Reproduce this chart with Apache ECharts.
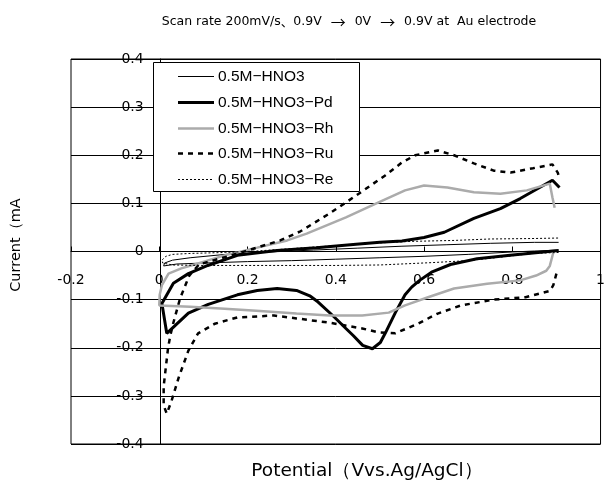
<!DOCTYPE html>
<html>
<head>
<meta charset="utf-8">
<script src="https://cdn.jsdelivr.net/npm/echarts@6/dist/echarts.min.js"></script>
<style>
  html, body { margin: 0; padding: 0; background: #fff; }
  #chart { width: 608px; height: 483px; }
</style>
</head>
<body>
<div id="chart"></div>
<script>
// Cyclic voltammograms, 0.9 V -> 0 V -> 0.9 V; each list is [potential (V), current (mA)]
const seriesNames = ['0.5M−HNO3', '0.5M−HNO3−Pd', '0.5M−HNO3−Rh', '0.5M−HNO3−Ru', '0.5M−HNO3−Re'];

const hno3 = [
  [0.905, 0.003], [0.85, 0.001], [0.8, -0.001], [0.7, -0.006], [0.6, -0.010], [0.5, -0.013],
  [0.4, -0.016], [0.3, -0.019], [0.2, -0.021], [0.1, -0.024], [0.04, -0.026], [0.01, -0.030],
  [0.012, -0.024], [0.03, -0.018], [0.07, -0.013], [0.15, -0.006], [0.25, -0.001], [0.35, 0.003],
  [0.45, 0.007], [0.55, 0.011], [0.65, 0.014], [0.75, 0.017], [0.85, 0.019], [0.905, 0.019]
];

const hno3Pd = [
  [0.905, 0.002], [0.795, -0.008], [0.72, -0.015], [0.66, -0.027], [0.617, -0.043], [0.59, -0.060],
  [0.572, -0.074], [0.557, -0.090], [0.535, -0.127], [0.512, -0.170], [0.501, -0.189], [0.483, -0.202],
  [0.461, -0.195], [0.44, -0.175], [0.423, -0.160], [0.393, -0.133], [0.36, -0.105], [0.341, -0.092],
  [0.311, -0.081], [0.267, -0.077], [0.222, -0.081], [0.177, -0.090], [0.111, -0.110], [0.066, -0.128],
  [0.017, -0.170], [0.006, -0.108], [0.032, -0.066], [0.066, -0.046], [0.11, -0.029], [0.177, -0.008],
  [0.267, 0.002], [0.356, 0.008], [0.446, 0.015], [0.5, 0.019], [0.55, 0.022], [0.6, 0.029],
  [0.646, 0.040], [0.713, 0.069], [0.773, 0.089], [0.818, 0.110], [0.891, 0.148], [0.907, 0.133]
];

const hno3Rh = [
  [0.893, -0.002], [0.885, -0.030], [0.877, -0.040], [0.854, -0.050], [0.818, -0.060], [0.743, -0.067],
  [0.668, -0.077], [0.609, -0.095], [0.557, -0.112], [0.52, -0.127], [0.46, -0.133], [0.386, -0.133],
  [0.311, -0.129], [0.22, -0.123], [0.148, -0.119], [0.07, -0.115], [0.0, -0.112], [-0.004, -0.110],
  [0.001, -0.090], [0.006, -0.070], [0.021, -0.046], [0.05, -0.035], [0.088, -0.025], [0.148, -0.008],
  [0.222, 0.008], [0.29, 0.023], [0.334, 0.037], [0.423, 0.071], [0.497, 0.102], [0.557, 0.127],
  [0.6, 0.137], [0.653, 0.133], [0.713, 0.123], [0.773, 0.120], [0.833, 0.127], [0.885, 0.141],
  [0.891, 0.112], [0.896, 0.091]
];

const hno3Ru = [
  [0.9, -0.046], [0.893, -0.070], [0.885, -0.082], [0.83, -0.095], [0.758, -0.100], [0.684, -0.112],
  [0.631, -0.129], [0.586, -0.150], [0.535, -0.170], [0.497, -0.168], [0.46, -0.160], [0.386, -0.148],
  [0.311, -0.139], [0.26, -0.133], [0.177, -0.137], [0.126, -0.150], [0.088, -0.170], [0.066, -0.206],
  [0.044, -0.262], [0.028, -0.310], [0.017, -0.337], [0.01, -0.320], [0.01, -0.280], [0.015, -0.240],
  [0.02, -0.200], [0.025, -0.175], [0.032, -0.148], [0.047, -0.098], [0.068, -0.050], [0.09, -0.027],
  [0.148, -0.012], [0.2, 0.002], [0.274, 0.023], [0.32, 0.042], [0.386, 0.079], [0.452, 0.120],
  [0.512, 0.158], [0.55, 0.185], [0.58, 0.200], [0.631, 0.210], [0.668, 0.200], [0.713, 0.183],
  [0.758, 0.168], [0.796, 0.164], [0.847, 0.173], [0.891, 0.181], [0.903, 0.164], [0.907, 0.152]
];

const hno3Re = [
  [0.905, -0.002], [0.847, -0.004], [0.77, -0.012], [0.70, -0.019], [0.62, -0.023], [0.5, -0.028],
  [0.4, -0.029], [0.3, -0.029], [0.2, -0.029], [0.1, -0.029], [0.03, -0.028], [0.008, -0.024],
  [0.006, -0.018], [0.015, -0.010], [0.03, -0.006], [0.07, -0.004], [0.15, -0.002], [0.22, 0.001],
  [0.3, 0.006], [0.38, 0.011], [0.48, 0.017], [0.57, 0.021], [0.668, 0.023], [0.75, 0.026],
  [0.85, 0.027], [0.905, 0.028]
];

const xTicks = { min: -0.2, max: 1.0, step: 0.2 };
const yTicks = { min: -0.4, max: 0.4, step: 0.1 };

const xName = 'Potential（Vvs.Ag/AgCl）';
const yName = 'Current（mA';

// line look of each curve (shared by the plot and the key)
const styles = [
  { width: 1,   color: '#000',    type: 'solid' },
  { width: 3,   color: '#000',    type: 'solid' },
  { width: 2.5, color: '#ababab', type: 'solid' },
  { width: 2.5, color: '#000',    type: [5, 5] },
  { width: 1,   color: '#000',    type: [2, 2] }
];
const seriesData = [hno3, hno3Pd, hno3Rh, hno3Ru, hno3Re];

const chart = echarts.init(document.getElementById('chart'), null, { renderer: 'canvas' });

const wide = '"DejaVu Sans", sans-serif';
const latin = '"Liberation Sans", Arial, sans-serif';
const labelFont = { fontFamily: '"DejaVu Sans", sans-serif', fontSize: 14, color: '#000' };

const grid = { left: 71, top: 59, right: -1, bottom: 39 };
const plotW = 608 - grid.left - grid.right;
const plotH = 483 - grid.top - grid.bottom;
// shift the axes so they run through the origin, labels included
const yAxisShift = plotW * (0 - xTicks.min) / (xTicks.max - xTicks.min);
const xAxisShift = plotH * (0 - yTicks.min) / (yTicks.max - yTicks.min);

// key box
const key = { x: 153, y: 62, w: 206, h: 129, row0: 76, rowGap: 25.75, lineX0: 178, lineX1: 214, textX: 218 };
const keyElements = [{
  type: 'rect', z: 100,
  shape: { x: key.x + 0.5, y: key.y + 0.5, width: key.w, height: key.h },
  style: { fill: '#fff', stroke: '#000', lineWidth: 1 }
}];
seriesNames.forEach(function (name, i) {
  const y = Math.round(key.row0 + i * key.rowGap) + 0.5;
  const s = styles[i];
  keyElements.push({
    type: 'line', z: 101,
    shape: { x1: key.lineX0, y1: y, x2: key.lineX1, y2: y },
    style: { stroke: s.color, lineWidth: s.width, lineDash: Array.isArray(s.type) ? s.type : null }
  });
  keyElements.push({
    type: 'text', x: key.textX, y: y, z: 101,
    style: { text: name, font: '15.5px ' + latin, fill: '#000', align: 'left', verticalAlign: 'middle' }
  });
});

chart.setOption({
  backgroundColor: '#fff',
  animation: false,
  grid: Object.assign({ show: true, borderColor: '#000', borderWidth: 1, backgroundColor: 'transparent' }, grid),
  xAxis: {
    type: 'value',
    min: xTicks.min, max: xTicks.max, interval: xTicks.step,
    offset: -xAxisShift,
    axisLine: { onZero: false, lineStyle: { color: '#000', width: 1 } },
    axisTick: { show: true, inside: true, length: 5, lineStyle: { color: '#000' } },
    axisLabel: Object.assign({ margin: 22, alignMaxLabel: 'center' }, labelFont),
    splitLine: { show: false }
  },
  yAxis: {
    type: 'value',
    min: yTicks.min, max: yTicks.max, interval: yTicks.step,
    offset: -yAxisShift,
    axisLine: { onZero: false, lineStyle: { color: '#000', width: 1 } },
    axisTick: { show: false },
    axisLabel: Object.assign({ margin: 17 }, labelFont),
    splitLine: { show: true, lineStyle: { color: '#000', width: 1 } }
  },
  graphic: [
    {
      type: 'text', x: 349, y: 22, z: 100,
      style: {
        text: 'Scan rate 200mV/s{c|、}0.9V {a|→} 0V {a|→} 0.9V at  Au electrode',
        font: '12.5px ' + wide, fill: '#000', align: 'center', verticalAlign: 'middle',
        rich: {
          a: { fontSize: 15, fontFamily: '"Noto Sans CJK JP"', padding: [0, 5, 0, 5] },
          c: { fontSize: 12.5, fontFamily: '"Noto Sans CJK JP"' }
        }
      }
    },
    {
      type: 'text', x: 367, y: 471, z: 100,
      style: { text: xName, font: '18.5px ' + wide, fill: '#000', align: 'center', verticalAlign: 'middle' }
    },
    {
      type: 'text', x: 16, y: 245, rotation: Math.PI / 2, z: 100,
      style: { text: yName, font: '14.5px ' + wide, fill: '#000', align: 'center', verticalAlign: 'middle' }
    },
    { type: 'group', children: keyElements }
  ],
  series: seriesNames.map(function (name, i) {
    return {
      name: name,
      type: 'line',
      data: seriesData[i],
      showSymbol: false,
      symbol: 'none',
      smooth: false,
      animation: false,
      lineStyle: styles[i],
      z: 3
    };
  })
});
</script>
</body>
</html>
